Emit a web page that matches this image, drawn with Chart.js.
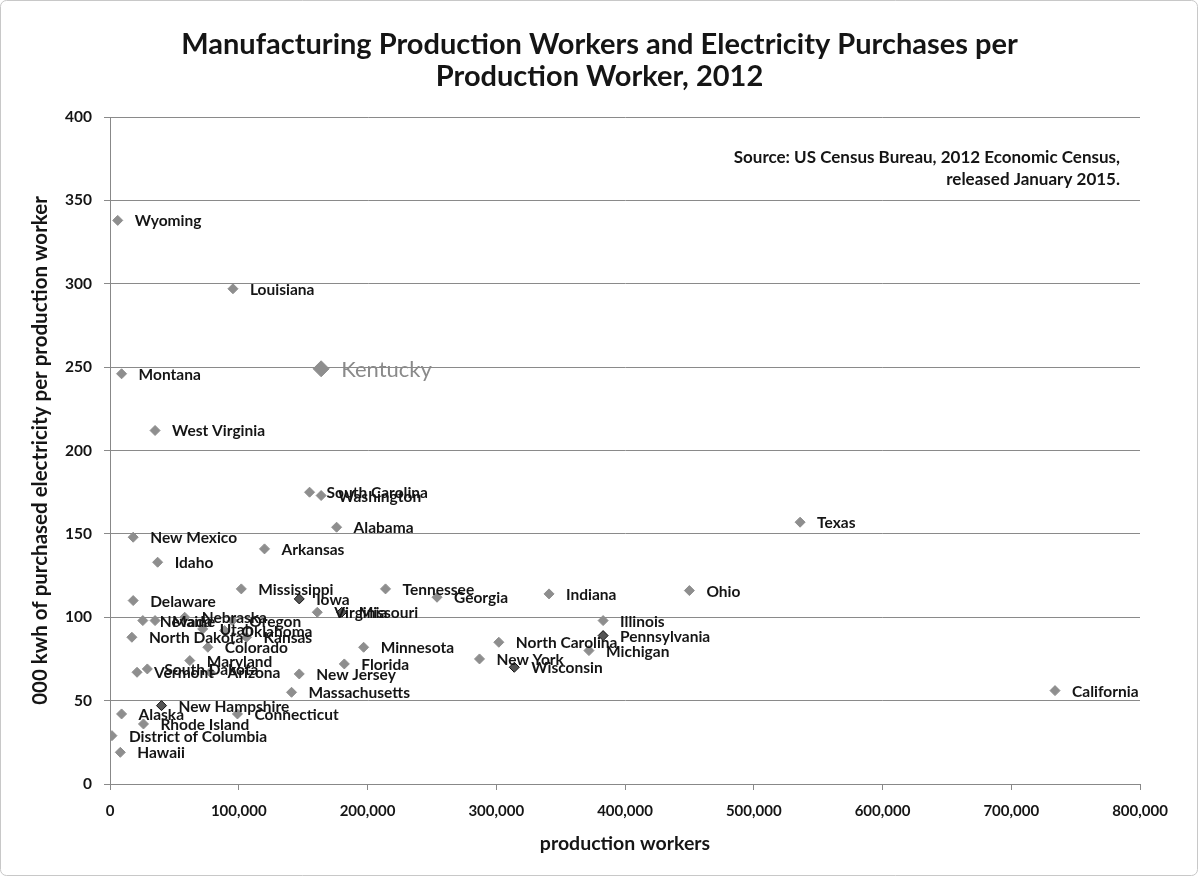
<!DOCTYPE html>
<html>
<head>
<meta charset="utf-8">
<script src="https://cdn.jsdelivr.net/npm/chart.js@4.4.1/dist/chart.umd.min.js"></script>
<style>
    html, body { margin: 0; padding: 0; background: #fff; }
    #wrap { width: 1199px; height: 877px; }
</style>
</head>
<body>
<div id="wrap"><canvas id="chartCanvas" width="1199" height="877"></canvas></div>
<script>
// Data
const states = [
    'Wyoming', 'Louisiana', 'Kentucky', 'Montana', 'West Virginia',
    'South Carolina', 'Washington', 'Alabama', 'Texas', 'New Mexico',
    'Arkansas', 'Idaho', 'Mississippi', 'Tennessee', 'Georgia',
    'Indiana', 'Ohio', 'Iowa', 'Delaware', 'Virginia',
    'Missouri', 'Illinois', 'Pennsylvania', 'Michigan', 'North Carolina',
    'Minnesota', 'New York', 'Wisconsin', 'Florida', 'New Jersey',
    'Massachusetts', 'California', 'Nevada', 'Maine', 'Nebraska',
    'Oregon', 'Utah', 'Oklahoma', 'North Dakota', 'Kansas',
    'Colorado', 'Maryland', 'South Dakota', 'Vermont', 'Arizona',
    'New Hampshire', 'Alaska', 'Rhode Island', 'Connecticut', 'District of Columbia',
    'Hawaii',
];
const workers = [
    6000, 95500, 164000, 9000, 35000,
    155000, 164000, 176000, 536000, 18000,
    120000, 37000, 102000, 214000, 254000,
    341000, 450000, 147000, 18000, 161000,
    180000, 383000, 383000, 372000, 302000,
    197000, 287000, 314000, 182000, 147000,
    141000, 734000, 25500, 35000, 58000,
    95000, 72000, 89000, 17000, 106000,
    76000, 62000, 29000, 21000, 78000,
    40000, 9000, 26000, 99000, 1500,
    8000,
];
const kwhPerWorker = [
    338, 297, 249, 246, 212,
    175, 173, 154, 157, 148,
    141, 133, 117, 117, 112,
    114, 116, 111, 110, 103,
    103, 98, 89, 80, 85,
    82, 75, 70, 72, 66,
    55, 56, 98, 98, 100,
    98, 93, 92, 88, 88,
    82, 74, 69, 67, 67,
    47, 42, 36, 42, 29,
    19,
];
const darkOutlined = ['Iowa', 'Missouri', 'Pennsylvania', 'Wisconsin', 'New Hampshire'];
const highlighted = 'Kentucky';

const titleLines = [
    'Manufacturing Production Workers and Electricity Purchases per',
    'Production Worker, 2012',
];
const sourceLines = [
    'Source: US Census Bureau, 2012 Economic Census,',
    'released January 2015.',
];

const FONT = 'Lato, "Open Sans", sans-serif';
const GRAY = '#8e8e8e';

const points = states.map((s, i) => ({ x: workers[i], y: kwhPerWorker[i], name: s }));

// Border, title, point labels and source note
const annotate = {
    id: 'annotate',
    beforeDraw(chart) {
        const ctx = chart.ctx;
        ctx.save();
        ctx.fillStyle = '#fff';
        ctx.fillRect(0, 0, chart.width, chart.height);
        ctx.strokeStyle = '#c8c8c8';
        ctx.lineWidth = 1;
        ctx.beginPath();
        ctx.roundRect(0.5, 0.5, chart.width - 2, chart.height - 2, 6);
        ctx.stroke();

        // title centred on the whole picture
        ctx.font = 'bold 29px ' + FONT;
        ctx.fillStyle = '#151515';
        ctx.textAlign = 'center';
        ctx.textBaseline = 'middle';
        ctx.fillText(titleLines[0], chart.width / 2, 45);
        ctx.fillText(titleLines[1], chart.width / 2, 77);
        ctx.restore();
    },
    afterDatasetsDraw(chart) {
        const ctx = chart.ctx;
        const xs = chart.scales.x;
        const ys = chart.scales.y;
        ctx.save();
        ctx.textBaseline = 'middle';
        ctx.textAlign = 'left';
        points.forEach(p => {
            const px = xs.getPixelForValue(p.x);
            const py = ys.getPixelForValue(p.y);
            if (p.name === highlighted) {
                ctx.font = '22px ' + FONT;
                ctx.fillStyle = '#8a8a8a';
                ctx.fillText(p.name, px + 20, py + 1);
            } else {
                ctx.font = 'bold 15.5px ' + FONT;
                ctx.fillStyle = '#151515';
                ctx.fillText(p.name, px + 17, py + 1);
            }
        });
        ctx.font = 'bold 17px ' + FONT;
        ctx.fillStyle = '#151515';
        ctx.textAlign = 'right';
        ctx.fillText(sourceLines[0], chart.chartArea.right - 20, chart.chartArea.top + 41);
        ctx.fillText(sourceLines[1], chart.chartArea.right - 20, chart.chartArea.top + 63);
        ctx.restore();
    },
};

new Chart(document.getElementById('chartCanvas'), {
    type: 'scatter',
    data: {
        datasets: [{
            data: points,
            pointStyle: 'rectRot',
            pointRadius: points.map(p => p.name === highlighted ? 8 : 5),
            pointBackgroundColor: points.map(p => darkOutlined.includes(p.name) ? '#555' : GRAY),
            pointBorderColor: points.map(p => darkOutlined.includes(p.name) ? '#111' : GRAY),
            pointBorderWidth: 1,
        }],
    },
    options: {
        responsive: false,
        animation: false,
        layout: { padding: { left: 0, right: 59, top: 117, bottom: 0 } },
        plugins: {
            legend: { display: false },
            tooltip: { enabled: false },
            title: { display: false },
        },
        scales: {
            x: {
                type: 'linear',
                min: 0,
                max: 800000,
                afterFit: scale => { scale.height = 93; },
                ticks: {
                    stepSize: 100000,
                    padding: 12,
                    color: '#151515',
                    font: { family: FONT, size: 15, weight: 'bold' },
                    callback: v => v.toLocaleString('en-US'),
                },
                grid: { drawOnChartArea: false, drawTicks: true, tickLength: 6, color: '#888' },
                border: { display: true, color: '#888' },
                title: {
                    display: true,
                    text: 'production workers',
                    color: '#151515',
                    font: { family: FONT, size: 19.5, weight: 'bold' },
                    padding: { top: 0, bottom: 22 },
                },
            },
            y: {
                type: 'linear',
                min: 0,
                max: 400,
                afterFit: scale => { scale.width = 110; },
                ticks: {
                    stepSize: 50,
                    padding: 12,
                    color: '#151515',
                    font: { family: FONT, size: 15.5, weight: 'bold' },
                },
                grid: { drawOnChartArea: true, drawTicks: true, tickLength: 6, color: '#8a8a8a' },
                border: { display: true, color: '#888' },
                title: {
                    display: true,
                    text: '000 kwh of purchased electricity per production worker',
                    color: '#151515',
                    font: { family: FONT, size: 20.5, weight: 'bold' },
                    padding: { top: 28, bottom: 0 },
                },
            },
        },
    },
    plugins: [annotate],
});
</script>
</body>
</html>
